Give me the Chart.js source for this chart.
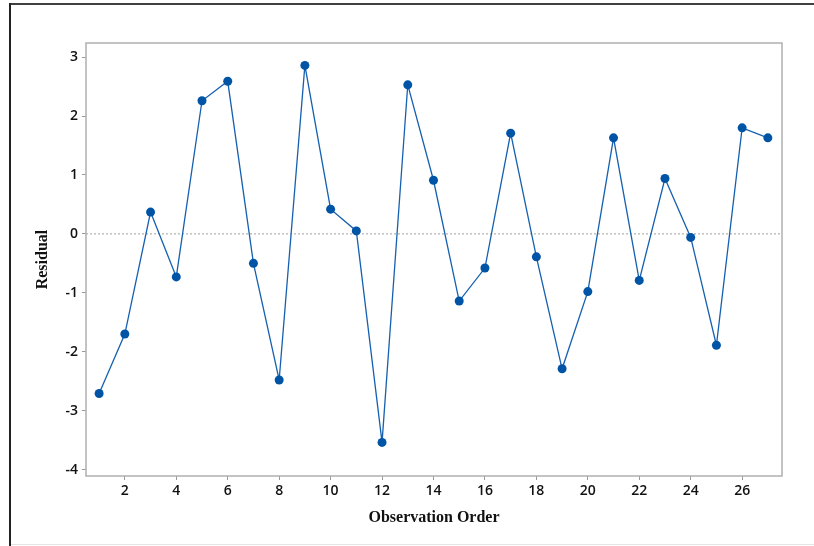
<!DOCTYPE html>
<html>
<head>
<meta charset="utf-8">
<script src="https://cdn.jsdelivr.net/npm/chart.js@4.4.1/dist/chart.umd.min.js"></script>
<style>
  body { margin: 0; background: #fff; }
  canvas { display: block; }
</style>
</head>
<body>
<canvas id="grafico" width="814" height="546"></canvas>
<script>
// dados (resíduos x ordem de observação)
const ordem = [1, 2, 3, 4, 5, 6, 7, 8, 9, 10, 11, 12, 13, 14, 15, 16, 17, 18, 19, 20, 21, 22, 23, 24, 25, 26, 27];
const residuos = [-2.71, -1.70, 0.37, -0.73, 2.26, 2.59, -0.50, -2.48, 2.86, 0.42, 0.05, -3.54, 2.53, 0.91,
                  -1.14, -0.58, 1.71, -0.39, -2.29, -0.98, 1.63, -0.79, 0.94, -0.06, -1.89, 1.80, 1.63];
const ticksX = [2, 4, 6, 8, 10, 12, 14, 16, 18, 20, 22, 24, 26];
const ticksY = [-4, -3, -2, -1, 0, 1, 2, 3];

const pontos = ordem.map((o, i) => ({ x: o, y: residuos[i] }));

const azul = '#0054a6';
const fonteTicks = { family: "'Open Sans', 'Noto Sans', sans-serif", size: 14, weight: '600' };
const fonteTitulo = { family: "'Liberation Serif', 'Times New Roman', serif", size: 16, weight: 'bold' };

// moldura externa + fundo branco
const moldura = {
    id: 'moldura',
    beforeDraw: function(chart) {
        const ctx = chart.ctx;
        ctx.save();
        ctx.fillStyle = '#fff';
        ctx.fillRect(0, 0, chart.width, chart.height);
        ctx.fillStyle = '#404040';
        ctx.fillRect(9, 3, chart.width - 9, 2);   // linha de cima
        ctx.fillStyle = '#222';
        ctx.fillRect(9, 3, 2, chart.height - 3);  // linha da esquerda
        ctx.fillStyle = '#e4e4e4';
        ctx.fillRect(11, chart.height - 2, chart.width - 11, 1);
        ctx.restore();
    }
};

// caixa da área do gráfico e linha de referência em zero
const caixa = {
    id: 'caixa',
    beforeDatasetsDraw: function(chart) {
        const { ctx, chartArea, scales } = chart;
        const y0 = scales.y.getPixelForValue(0);
        ctx.save();
        ctx.strokeStyle = '#a0a0a0';
        ctx.lineWidth = 1;
        ctx.setLineDash([2, 2]);
        ctx.beginPath();
        ctx.moveTo(chartArea.left, y0);
        ctx.lineTo(chartArea.right, y0);
        ctx.stroke();
        ctx.setLineDash([]);
        ctx.strokeStyle = '#b0b0b0';
        ctx.lineWidth = 1.5;
        ctx.strokeRect(chartArea.left, chartArea.top, chartArea.right - chartArea.left, chartArea.bottom - chartArea.top);
        ctx.restore();
    }
};

const config = {
    type: 'line',
    data: {
        datasets: [{
            label: 'Residual',
            data: pontos,
            borderColor: '#1560b0',
            borderWidth: 1.3,
            backgroundColor: azul,
            pointBackgroundColor: azul,
            pointBorderColor: azul,
            pointRadius: 4.5,
            pointBorderWidth: 0,
            tension: 0,
            fill: false
        }]
    },
    options: {
        responsive: false,
        animation: false,
        layout: { padding: { top: 43, right: 32, left: 0, bottom: 0 } },
        plugins: {
            legend: { display: false },
            tooltip: { enabled: false }
        },
        scales: {
            x: {
                type: 'linear',
                min: 0.49,
                max: 27.55,
                afterBuildTicks: function(scale) {
                    scale.ticks = ticksX.map(v => ({ value: v }));
                },
                afterFit: function(scale) { scale.height = 70; },
                border: { display: false },
                grid: { display: true, drawOnChartArea: false, drawTicks: true, tickLength: 4, color: '#999' },
                ticks: { font: fonteTicks, color: '#111', padding: 3, maxRotation: 0 },
                title: { display: true, text: 'Observation Order', font: fonteTitulo, color: '#111', padding: { top: 0, bottom: 19 } }
            },
            y: {
                min: -4.11,
                max: 3.24,
                afterBuildTicks: function(scale) {
                    scale.ticks = ticksY.map(v => ({ value: v }));
                },
                afterFit: function(scale) { scale.width = 86; },
                border: { display: false },
                grid: { display: true, drawOnChartArea: false, drawTicks: true, tickLength: 4, color: '#999' },
                ticks: { font: fonteTicks, color: '#111', padding: 4 },
                title: { display: true, text: 'Residual', font: fonteTitulo, color: '#111', padding: { top: 33, bottom: 0 } }
            }
        }
    },
    plugins: [moldura, caixa]
};

const graficoResiduos = new Chart(document.getElementById('grafico').getContext('2d'), config);
</script>
</body>
</html>
